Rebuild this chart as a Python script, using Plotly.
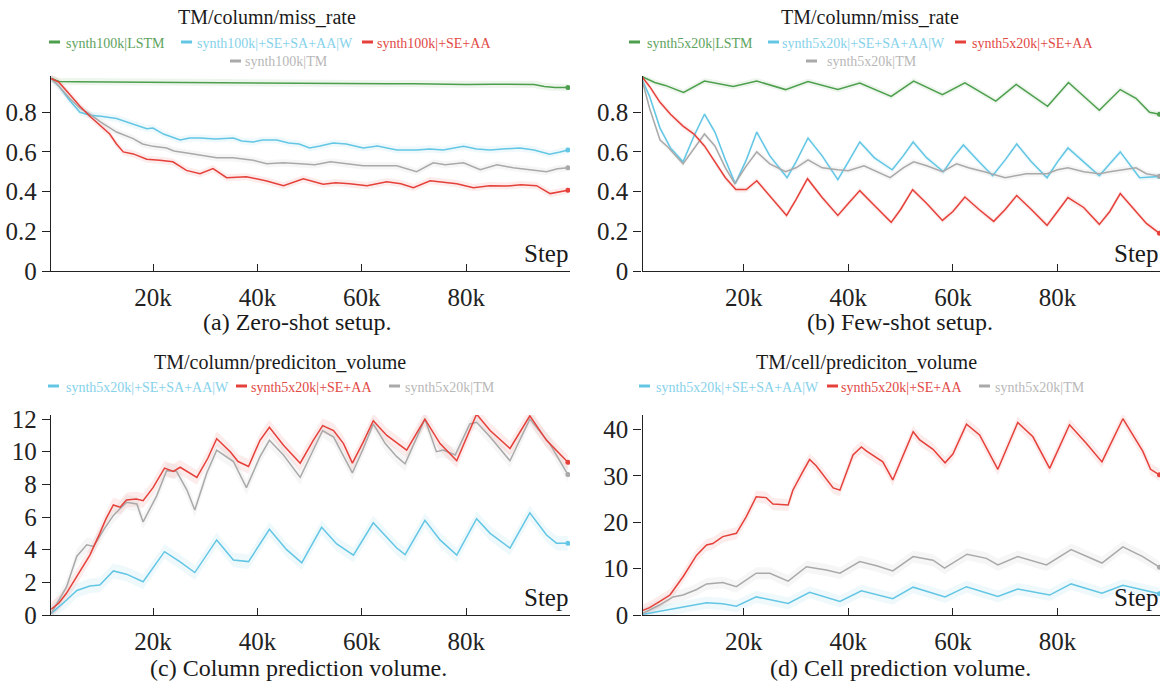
import plotly.graph_objects as go

# ---------------- data (steps in thousands) ----------------
# (a) Zero-shot setup: TM/column/miss_rate
a_green_x = [0.5, 2, 5, 10, 15, 20, 25, 30, 35, 40, 45, 50, 55, 60, 65, 70, 75, 80, 85, 90, 93, 95, 97, 99.5]
a_green_y = [0.97, 0.955, 0.954, 0.953, 0.953, 0.952, 0.951, 0.95, 0.95, 0.947, 0.946, 0.944, 0.945, 0.944,
             0.943, 0.944, 0.941, 0.94, 0.941, 0.94, 0.94, 0.93, 0.925, 0.924]
a_cyan_x = [0.5, 2, 4, 6, 8, 10, 13, 16, 18.8, 20, 22, 25.2, 27, 29, 32, 35.4, 37, 39.2, 41, 43.7, 46, 48, 50,
            52, 54.5, 57, 60.3, 63, 66.7, 70.5, 73, 75.6, 79.5, 82, 84.6, 87, 90.3, 93, 96, 98, 99.5]
a_cyan_y = [0.97, 0.93, 0.86, 0.80, 0.785, 0.78, 0.768, 0.74, 0.717, 0.72, 0.69, 0.66, 0.67, 0.67, 0.665, 0.67,
            0.655, 0.65, 0.66, 0.66, 0.645, 0.64, 0.62, 0.63, 0.645, 0.64, 0.62, 0.63, 0.61, 0.61, 0.615, 0.61,
            0.628, 0.615, 0.61, 0.615, 0.62, 0.61, 0.588, 0.60, 0.61]
a_gray_x = [0.5, 2, 4, 6, 7.9, 10, 13, 16.2, 18, 20, 22.6, 24, 26.5, 29, 32.2, 35.3, 37, 39.2, 41.8, 45, 48.2,
            51, 54, 57, 60.3, 63, 66.7, 70.5, 73.7, 76, 79.5, 82.7, 85.9, 89, 92.3, 95.4, 97.5, 99.5]
a_gray_y = [0.97, 0.93, 0.87, 0.82, 0.79, 0.75, 0.70, 0.667, 0.64, 0.628, 0.62, 0.605, 0.594, 0.585, 0.571,
            0.57, 0.565, 0.558, 0.54, 0.545, 0.54, 0.535, 0.55, 0.54, 0.53, 0.53, 0.53, 0.50, 0.545, 0.535,
            0.545, 0.51, 0.535, 0.52, 0.51, 0.50, 0.515, 0.52]
a_red_x = [0.5, 2, 4, 6, 7.9, 10, 11.7, 13, 14.3, 16.2, 18.8, 21.3, 23.8, 26.4, 29, 31.5, 34.1, 37.9, 41.8, 45,
           48.8, 52.6, 55, 57.7, 61, 64.8, 67.5, 69.9, 73.1, 78.2, 81.4, 84.5, 87.8, 90.5, 93.5, 96.1, 98, 99.5]
a_red_y = [0.97, 0.95, 0.89, 0.83, 0.78, 0.73, 0.69, 0.64, 0.60, 0.59, 0.563, 0.558, 0.55, 0.507, 0.49, 0.516,
           0.47, 0.475, 0.453, 0.43, 0.465, 0.437, 0.445, 0.44, 0.43, 0.45, 0.44, 0.42, 0.455, 0.44, 0.42, 0.43,
           0.428, 0.435, 0.43, 0.39, 0.40, 0.407]

# (b) Few-shot setup: TM/column/miss_rate
b_green_x = [0.5, 3, 5, 8.5, 12.5, 18, 22.5, 28, 32.3, 38, 42.2, 48.2, 52.5, 58, 62.3, 68.2, 72.1, 78.1, 82.1,
             88, 92, 95, 97.6, 99.5]
b_green_y = [0.98, 0.95, 0.935, 0.90, 0.957, 0.93, 0.957, 0.914, 0.955, 0.914, 0.947, 0.88, 0.957, 0.888,
             0.948, 0.856, 0.94, 0.83, 0.95, 0.81, 0.914, 0.87, 0.80, 0.79]
b_cyan_x = [0.5, 2, 4, 6, 8.4, 10.5, 12.5, 14.5, 16.5, 18.4, 20.5, 22.5, 25, 28.3, 30, 32.3, 35, 38, 40, 42.2,
            45, 48.4, 50.5, 52.4, 55, 58.2, 60, 62, 65, 67.6, 70, 72.2, 75, 78, 80, 82, 85, 88, 90, 92, 95.7, 99.5]
b_cyan_y = [0.97, 0.88, 0.72, 0.62, 0.55, 0.68, 0.79, 0.70, 0.56, 0.44, 0.56, 0.70, 0.58, 0.47, 0.55, 0.67,
            0.58, 0.46, 0.55, 0.65, 0.57, 0.51, 0.58, 0.65, 0.57, 0.50, 0.57, 0.635, 0.55, 0.48, 0.56, 0.64,
            0.55, 0.47, 0.55, 0.62, 0.55, 0.48, 0.54, 0.60, 0.47, 0.476]
b_gray_x = [0.5, 2, 4, 5.5, 8.4, 10.5, 12.5, 14.5, 16.5, 18.3, 20.5, 22.5, 25, 28, 30, 32.3, 35, 38, 40, 43,
            45.5, 48, 50.5, 52.5, 55, 58, 60.7, 63, 66, 70, 74, 78, 80, 82, 85, 88, 90, 93, 95, 97, 99.5]
b_gray_y = [0.97, 0.82, 0.66, 0.625, 0.54, 0.62, 0.69, 0.63, 0.52, 0.44, 0.53, 0.60, 0.54, 0.50, 0.52, 0.56,
            0.52, 0.51, 0.505, 0.53, 0.50, 0.47, 0.52, 0.55, 0.53, 0.50, 0.54, 0.52, 0.50, 0.47, 0.49, 0.49,
            0.51, 0.52, 0.50, 0.49, 0.50, 0.51, 0.52, 0.49, 0.478]
b_red_x = [0.5, 2, 4, 6, 8.4, 10.5, 12.5, 14.5, 16.5, 18.5, 20.5, 22.5, 25, 28.2, 30, 32.2, 35, 38, 40, 42.2,
           45, 48.2, 50, 52.3, 55, 58, 60, 62.3, 65, 67.8, 70, 72.2, 75, 78, 80, 82, 85, 88, 90, 92, 95, 97, 99.5]
b_red_y = [0.98, 0.93, 0.85, 0.79, 0.73, 0.69, 0.63, 0.55, 0.47, 0.41, 0.41, 0.455, 0.38, 0.28, 0.36, 0.465,
           0.37, 0.28, 0.34, 0.405, 0.33, 0.245, 0.31, 0.41, 0.34, 0.255, 0.30, 0.373, 0.31, 0.25, 0.31, 0.38,
           0.31, 0.23, 0.30, 0.37, 0.32, 0.235, 0.30, 0.39, 0.30, 0.24, 0.19]

# (c) Column prediction volume: TM/column/prediciton_volume
c_cyan_x = [0.5, 2, 3.4, 5.4, 7.9, 9.8, 12.4, 14.9, 18.1, 22.2, 25.2, 28, 32.2, 35.4, 38.3, 42.3, 45.6, 48.5,
            52.3, 55.2, 58.4, 62.2, 66.7, 68.3, 72.1, 75, 78.2, 82, 84.6, 88.4, 92.2, 95.4, 97.3, 99.5]
c_cyan_y = [0.1, 0.5, 0.9, 1.5, 1.78, 1.84, 2.7, 2.5, 2.04, 3.88, 3.25, 2.6, 4.6, 3.37, 3.27, 5.25, 4.0, 3.2,
            5.37, 4.35, 3.67, 5.65, 4.1, 3.7, 5.8, 4.6, 3.67, 5.9, 5.0, 4.1, 6.26, 4.9, 4.4, 4.39]
c_red_x = [0.5, 2, 3.4, 5.5, 7.9, 9.8, 11, 12.4, 13.7, 14.9, 16.8, 18.1, 20, 22.2, 23.9, 25.2, 28.4, 30.5,
           32.2, 34.8, 36.3, 38.3, 40.5, 42.3, 45, 48.2, 50.7, 52.5, 54.6, 56.5, 58.2, 60.3, 62.2, 64.8, 68.6,
           72.1, 75, 78.2, 80, 82, 84.6, 88.4, 92.2, 95.4, 99.5]
c_red_y = [0.35, 0.75, 1.33, 2.4, 3.67, 5.0, 5.9, 6.74, 6.6, 7.04, 7.1, 7.0, 7.8, 9.0, 8.8, 9.05, 8.43, 9.6,
           10.8, 10.0, 9.4, 9.1, 10.7, 11.5, 10.4, 9.3, 10.7, 11.6, 11.3, 10.5, 9.3, 10.6, 11.9, 11.0, 10.1,
           12.0, 10.5, 9.45, 10.8, 12.3, 11.3, 10.2, 12.2, 10.7, 9.35]
c_gray_x = [0.5, 2, 3.4, 5.4, 7.3, 8.6, 10.5, 12.4, 14.9, 16.9, 18.1, 20.7, 22.6, 24.5, 26.5, 28, 30.3, 32.2,
            35.4, 37.9, 40.5, 42.3, 45, 48.2, 50.7, 52.5, 54.6, 58.2, 60.3, 62.2, 64.5, 66.7, 68.3, 72.1, 74.3,
            75.6, 77.9, 80.7, 82, 84.6, 88.4, 92.2, 96, 99.5]
c_gray_y = [0.1, 0.9, 1.7, 3.6, 4.3, 4.2, 5.2, 6.1, 6.9, 6.8, 5.7, 7.3, 8.84, 8.8, 7.65, 6.43, 8.7, 10.1, 9.4,
            7.8, 9.7, 10.7, 9.8, 8.43, 10.1, 11.3, 10.9, 8.7, 10.2, 11.7, 10.5, 9.7, 9.26, 12.0, 10.0, 10.1,
            9.8, 11.7, 11.8, 10.9, 9.45, 12.0, 10.5, 8.6]

# (d) Cell prediction volume: TM/cell/prediciton_volume
d_cyan_x = [0.5, 2, 5.2, 8.4, 12.9, 16, 18.6, 22.4, 28.5, 32.6, 38.4, 42.5, 48.5, 52.4, 58.5, 62.6, 68.6, 72.4,
            78.5, 82.6, 88.5, 92.5, 99.5]
d_cyan_y = [0.1, 0.4, 1.1, 1.65, 2.65, 2.4, 1.9, 3.9, 2.5, 4.9, 2.9, 5.2, 3.5, 6.0, 3.9, 6.1, 4.0, 5.6, 4.3,
            6.7, 4.7, 6.4, 4.6]
d_red_x = [0.5, 2, 3.9, 5.9, 8.4, 11, 12.9, 14.1, 16, 18.6, 20.5, 22.4, 24.3, 25.6, 28.5, 29.4, 31.3, 32.6,
           33.9, 37.1, 38.4, 40.9, 42.5, 43.5, 46.6, 48.5, 52.4, 53.6, 56.2, 58.5, 60, 62.6, 65.1, 67, 68.6,
           72.4, 75.3, 78.5, 82.3, 85.5, 88.5, 92.5, 96.3, 97.8, 99.5]
d_red_y = [0.9, 1.6, 2.9, 4.3, 8.25, 12.9, 15.1, 15.4, 16.9, 17.6, 21.2, 25.5, 25.3, 23.9, 23.7, 26.9, 30.9,
           33.5, 32.1, 27.4, 26.9, 34.5, 36.2, 35.3, 33.0, 29.1, 39.5, 37.8, 35.7, 32.8, 34.7, 41.1, 38.8, 34.7,
           31.4, 41.5, 38.4, 31.6, 41.0, 37.0, 33.0, 42.3, 35.3, 31.4, 30.2]
d_gray_x = [0.5, 2, 3.9, 6.5, 8.4, 11, 12.9, 16, 18.6, 22.4, 25, 28.5, 32, 35.8, 38.4, 42.2, 45.4, 48.5, 52.4,
            56.2, 58.4, 62.7, 66.4, 68.6, 72.4, 77.9, 82.6, 88.5, 92.5, 96.3, 99.5]
d_gray_y = [0.2, 1.0, 2.15, 3.9, 4.3, 5.5, 6.7, 7.0, 6.1, 9.0, 9.0, 7.3, 10.4, 9.7, 9.0, 11.5, 10.6, 9.5, 12.6,
            11.8, 10.1, 13.1, 12.2, 10.8, 12.6, 10.8, 14.1, 11.2, 14.7, 12.6, 10.3]

x_tick_vals = [20, 40, 60, 80]
x_tick_text = ["20k", "40k", "60k", "80k"]
miss_ticks = [0, 0.2, 0.4, 0.6, 0.8]
miss_tick_text = ["0", "0.2", "0.4", "0.6", "0.8"]
col_ticks = [0, 2, 4, 6, 8, 10, 12]
cell_ticks = [0, 10, 20, 30, 40]

titles = ["TM/column/miss_rate", "TM/column/miss_rate",
          "TM/column/prediciton_volume", "TM/cell/prediciton_volume"]
captions = ["(a) Zero-shot setup.", "(b) Few-shot setup.",
            "(c) Column prediction volume.", "(d) Cell prediction volume."]

# ---------------- style ----------------
W, H = 1163, 686
GREEN = "#4d9f4d"
CYAN = "#62c6e4"
RED = "#e5403a"
GRAY = "#a9a9a9"
TXT = {GREEN: "#5ea35e", CYAN: "#86d2ea", RED: "#e24a45", GRAY: "#b8b8b8"}
FONT = "Liberation Serif"


def fx(p):
    return p / W


def fy(p):
    return 1 - p / H


def rgba(hexc, a):
    h = hexc.lstrip("#")
    return "rgba(%d,%d,%d,%s)" % (int(h[0:2], 16), int(h[2:4], 16), int(h[4:6], 16), a)


fig = go.Figure()

panels = [
    ("", [(a_green_x, a_green_y, GREEN), (a_cyan_x, a_cyan_y, CYAN), (a_gray_x, a_gray_y, GRAY),
          (a_red_x, a_red_y, RED)], 0.018),
    ("2", [(b_green_x, b_green_y, GREEN), (b_cyan_x, b_cyan_y, CYAN), (b_gray_x, b_gray_y, GRAY),
           (b_red_x, b_red_y, RED)], 0.015),
    ("3", [(c_cyan_x, c_cyan_y, CYAN), (c_gray_x, c_gray_y, GRAY), (c_red_x, c_red_y, RED)], 0.45),
    ("4", [(d_cyan_x, d_cyan_y, CYAN), (d_gray_x, d_gray_y, GRAY), (d_red_x, d_red_y, RED)], 1.3),
]

for suf, series, hw in panels:
    xa, ya = "x" + suf, "y" + suf
    for xs, ys, col in series:
        up = [v + hw for v in ys]
        lo = [v - hw for v in ys]
        fig.add_trace(go.Scatter(x=list(xs) + list(xs)[::-1], y=up + lo[::-1], fill="toself",
                                 fillcolor=rgba(col, 0.10), line=dict(width=0), mode="lines",
                                 hoverinfo="skip", showlegend=False, xaxis=xa, yaxis=ya))
    for xs, ys, col in series:
        fig.add_trace(go.Scatter(x=xs, y=ys, mode="lines", line=dict(color=col, width=1.5),
                                 showlegend=False, xaxis=xa, yaxis=ya))
        fig.add_trace(go.Scatter(x=[xs[-1]], y=[ys[-1]], mode="markers",
                                 marker=dict(color=col, size=5), showlegend=False, xaxis=xa, yaxis=ya))

axis_common = dict(showline=True, linecolor="#222", linewidth=1.3, showgrid=False, zeroline=False,
                   tickfont=dict(family=FONT, size=25, color="#222"), tickcolor="#222", tickwidth=1.2,
                   automargin=False)
xcommon = dict(axis_common, ticks="inside", ticklen=7, tickvals=x_tick_vals, ticktext=x_tick_text,
               ticklabelstandoff=4)
ycommon = dict(axis_common, ticks="outside", ticklen=8)

left_dom = [fx(51), fx(570)]
right_dom = [fx(642.5), fx(1160)]
top_dom = [fy(271), fy(75.5)]
bot_dom = [fy(615), fy(415)]

fig.update_layout(
    width=W, height=H, margin=dict(l=0, r=0, t=0, b=0, pad=0, autoexpand=False), autosize=False,
    paper_bgcolor="white", plot_bgcolor="white",
    xaxis=dict(xcommon, domain=left_dom, range=[0.45, 99.9], anchor="y"),
    yaxis=dict(ycommon, domain=top_dom, range=[0, 0.985], anchor="x", tickvals=miss_ticks,
               ticktext=miss_tick_text),
    xaxis2=dict(xcommon, domain=right_dom, range=[0.65, 99.6], anchor="y2"),
    yaxis2=dict(ycommon, domain=top_dom, range=[0, 0.985], anchor="x2", tickvals=miss_ticks,
                ticktext=miss_tick_text),
    xaxis3=dict(xcommon, domain=left_dom, range=[0.45, 99.9], anchor="y3"),
    yaxis3=dict(ycommon, domain=bot_dom, range=[0, 12.25], anchor="x3", tickvals=col_ticks),
    xaxis4=dict(xcommon, domain=right_dom, range=[0.65, 99.6], anchor="y4"),
    yaxis4=dict(ycommon, domain=bot_dom, range=[0, 43.1], anchor="x4", tickvals=cell_ticks),
)

annotations = []
shapes = []

title_pos = [(267, 17), (870, 17), (280, 362), (866, 362)]
for t, (px_, py_) in zip(titles, title_pos):
    annotations.append(dict(text=t, x=fx(px_), y=fy(py_), xref="paper", yref="paper", showarrow=False,
                            xanchor="center", yanchor="middle",
                            font=dict(family=FONT, size=20, color="#1a1a1a")))

cap_pos = [(297, 322), (900, 322), (298, 668), (900, 668)]
for t, (px_, py_) in zip(captions, cap_pos):
    annotations.append(dict(text=t, x=fx(px_), y=fy(py_), xref="paper", yref="paper", showarrow=False,
                            xanchor="center", yanchor="middle",
                            font=dict(family=FONT, size=24, color="#1a1a1a")))

legend_items = [
    (49, 64, 43, "synth100k|LSTM", GREEN),
    (181, 195, 43, "synth100k|+SE+SA+AA|W", CYAN),
    (362, 375, 43, "synth100k|+SE+AA", RED),
    (230, 243, 62, "synth100k|TM", GRAY),
    (629, 645, 43, "synth5x20k|LSTM", GREEN),
    (768, 780, 43, "synth5x20k|+SE+SA+AA|W", CYAN),
    (955, 970, 43, "synth5x20k|+SE+AA", RED),
    (806, 825, 62, "synth5x20k|TM", GRAY),
    (48, 64, 387, "synth5x20k|+SE+SA+AA|W", CYAN),
    (236, 249, 387, "synth5x20k|+SE+AA", RED),
    (389, 403, 387, "synth5x20k|TM", GRAY),
    (639, 654, 387, "synth5x20k|+SE+SA+AA|W", CYAN),
    (827, 839, 387, "synth5x20k|+SE+AA", RED),
    (979, 993, 387, "synth5x20k|TM", GRAY),
]
for dx, tx, yy, lab, col in legend_items:
    shapes.append(dict(type="line", xref="paper", yref="paper", x0=fx(dx), x1=fx(dx + 11),
                       y0=fy(yy - 1), y1=fy(yy - 1), line=dict(color=col, width=3)))
    annotations.append(dict(text=lab, x=fx(tx), y=fy(yy), xref="paper", yref="paper", showarrow=False,
                            xanchor="left", yanchor="middle",
                            font=dict(family=FONT, size=14, color=TXT[col])))

for suf in ["", "2", "3", "4"]:
    annotations.append(dict(text="Step", x=1, y=0, xref=("x" + suf + " domain"), yref=("y" + suf + " domain"),
                            showarrow=False, xanchor="right", yanchor="bottom", yshift=2,
                            font=dict(family=FONT, size=25, color="#1a1a1a")))

fig.update_layout(annotations=annotations, shapes=shapes)

fig.write_html("out.html", config={"displayModeBar": False},
               post_script="document.body.style.margin='0px';document.body.style.overflow='hidden';")
